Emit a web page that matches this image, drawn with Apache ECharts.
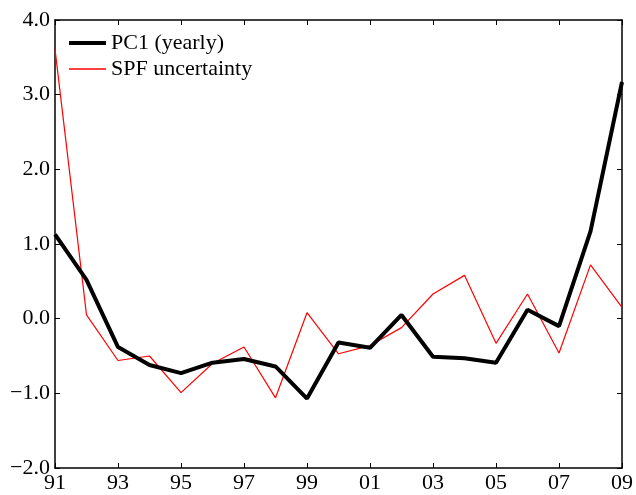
<!DOCTYPE html>
<html><head><meta charset="utf-8">
<script src="https://cdn.jsdelivr.net/npm/echarts@6/dist/echarts.min.js"></script>
<style>html,body{margin:0;padding:0;background:#fff}#c{width:636px;height:495px}</style>
</head><body><div id="c"></div>
<script>
var years = ['91','92','93','94','95','96','97','98','99','00','01','02','03','04','05','06','07','08','09'];
var pc1 = [1.13,0.52,-0.38,-0.62,-0.73,-0.59,-0.54,-0.64,-1.07,-0.32,-0.39,0.05,-0.51,-0.53,-0.59,0.12,-0.10,1.17,3.17];
var spf = [3.61,0.05,-0.56,-0.50,-0.99,-0.60,-0.38,-1.06,0.08,-0.47,-0.36,-0.12,0.33,0.58,-0.33,0.33,-0.46,0.72,0.15];
var yTicks = [-2,-1,0,1,2,3,4];

var font = 'Liberation Serif';
var fs = 22;
var chart = echarts.init(document.getElementById('c'));
function fmtY(v){ var s = Math.abs(v).toFixed(1); return v < 0 ? '\u2212' + s : s; }
var axisLine = {show:true, onZero:false, lineStyle:{color:'#000', width:1.5}};
var tick = {show:true, inside:true, length:5, lineStyle:{color:'#000', width:1}};
chart.setOption({
  animation:false,
  backgroundColor:'#fff',
  grid:{left:55, right:12, top:20, bottom:27, containLabel:false},
  legend:[{
    left:69, top:32, padding:0, itemWidth:37, itemHeight:4, icon:'rect', itemGap:0,
    textStyle:{fontFamily:font, fontSize:fs, color:'#000', padding:[0,0,0,0]},
    data:[{name:'PC1 (yearly)', itemStyle:{color:'#000'}}]
  },{
    left:69, top:58, padding:0, itemWidth:37, itemHeight:1.3, icon:'rect', itemGap:0,
    textStyle:{fontFamily:font, fontSize:fs, color:'#000', padding:[0,0,0,0]},
    data:[{name:'SPF uncertainty', itemStyle:{color:'#ff0000'}}]
  }],
  xAxis:[{
    type:'category', data:years, boundaryGap:false,
    axisLine:axisLine,
    axisTick:Object.assign({interval:1}, tick),
    axisLabel:{interval:1, fontFamily:font, fontSize:fs, color:'#000', margin:4},
    splitLine:{show:false}
  },{
    type:'category', data:years, boundaryGap:false, position:'top',
    axisLine:axisLine,
    axisTick:Object.assign({interval:1}, tick),
    axisLabel:{show:false}, splitLine:{show:false}
  }],
  yAxis:[{
    type:'value', min:yTicks[0], max:yTicks[yTicks.length-1], interval:1,
    axisLine:axisLine, axisTick:tick,
    axisLabel:{formatter:fmtY, fontFamily:font, fontSize:fs, color:'#000', margin:5},
    splitLine:{show:false}
  },{
    type:'value', min:yTicks[0], max:yTicks[yTicks.length-1], interval:1, position:'right',
    axisLine:axisLine, axisTick:tick,
    axisLabel:{show:false}, splitLine:{show:false}
  }],
  series:[{
    name:'PC1 (yearly)', type:'line', data:pc1, symbol:'none', z:3,
    lineStyle:{color:'#000', width:4}, itemStyle:{color:'#000'}
  },{
    name:'SPF uncertainty', type:'line', data:spf, symbol:'none', z:2,
    lineStyle:{color:'#ff0000', width:1.2}, itemStyle:{color:'#ff0000'}
  }]
});
</script></body></html>
